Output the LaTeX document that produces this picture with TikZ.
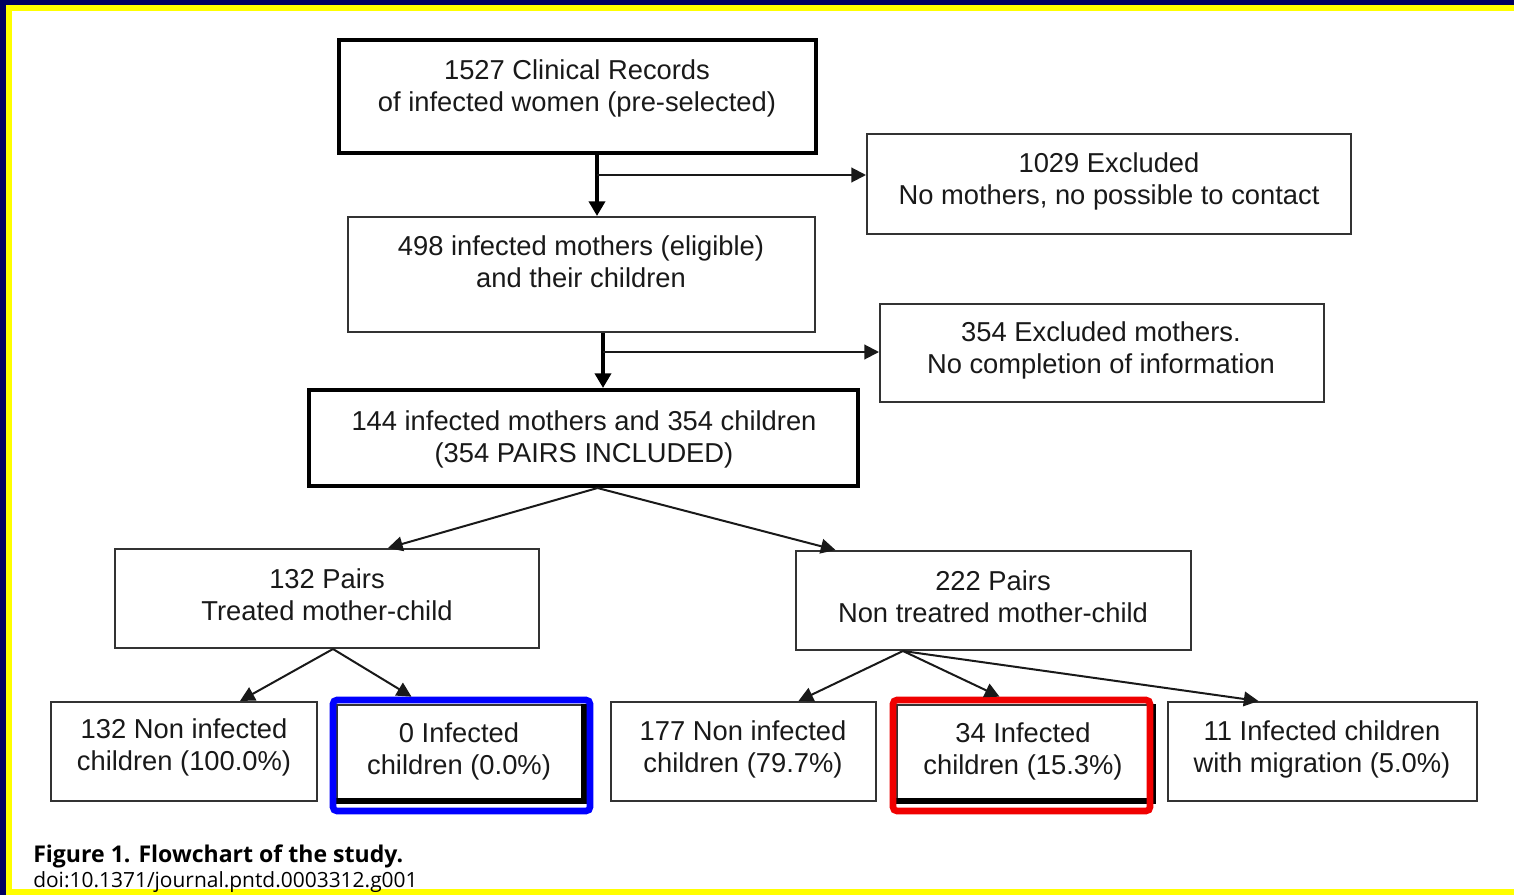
\documentclass[tikz,border=0pt]{standalone}
\usepackage{fontspec}
\setmainfont{Liberation Sans}
\newfontfamily\capfont{Open Sans}
\usetikzlibrary{arrows.meta,fit,calc}
\definecolor{navy}{HTML}{000060}
\definecolor{hlyellow}{HTML}{FFFF00}
\definecolor{hlblue}{HTML}{0000FF}
\definecolor{hlred}{HTML}{F00000}
\begin{document}
\begin{tikzpicture}[x=0.75pt,y=-0.75pt,
  thinbox/.style={draw=black!80, line width=1.5pt, inner sep=0pt},
  thickbox/.style={draw=black, line width=3pt, inner sep=0pt},
  txt/.style={align=center, font=\fontsize{20.5}{24}\selectfont, inner sep=0pt, text=black!90},
  conn/.style={draw=black!90, line width=1.5pt, -{Triangle[length=11pt,width=11pt]}},
  trunk/.style={draw=black, line width=3.5pt, -{Triangle[length=11pt,width=12pt]}},
  hl/.style={draw=#1, line width=5pt, rounded corners=3pt, inner sep=0pt},
  shadowline/.style={draw=black, line width=4pt}]
% frame
\fill[navy] (0,0) rectangle (1514,895);
\fill[hlyellow] (6,5) rectangle (1514,895);
\fill[white] (12,11) rectangle (1514,889);
\useasboundingbox (0,0) rectangle (1514,895);
% boxes
\node[thickbox, fit={(339,40)(816,153)}] (rec) {};
\node[txt] (trec) at (577,88) {1527 Clinical Records\\of infected women (pre-selected)};
\node[thinbox, fit={(867,134)(1351,234)}] (ex1) {};
\node[txt] (tex1) at (1109,181) {1029 Excluded\\No mothers, no possible to contact};
\node[thinbox, fit={(348,217)(815,332)}] (b2) {};
\node[txt] (tb2) at (581,262) {498 infected mothers (eligible)\\and their children};
\node[thinbox, fit={(880,304)(1324,402)}] (ex2) {};
\node[txt] (tex2) at (1101,350) {354 Excluded mothers.\\No completion of information};
\node[thickbox, fit={(309,390)(858,486)}] (b3) {};
\node[txt] (tb3) at (584,439) {144 infected mothers and 354 children\\(354 PAIRS INCLUDED)};
\node[thinbox, fit={(115,549)(539,648)}] (p1) {};
\node[txt] (tp1) at (327,595) {132 Pairs\\Treated mother-child};
\node[thinbox, fit={(796,551)(1191,650)}] (p2) {};
\node[txt] (tp2) at (993,597) {222 Pairs\\Non treatred mother-child};
\node[thinbox, fit={(51,702)(317,801)}] (c1) {};
\node[txt] (tc1) at (184,747) {132 Non infected\\children (100.0\%)};
\node[thinbox, fit={(337,705)(583,800)}] (c2) {};
\draw[shadowline] (c2.north east) -- (c2.south east) -- (c2.south west);
\node[txt] (tc2) at (459,751) {0 Infected\\children (0.0\%)};
\node[thinbox, fit={(611,702)(876,801)}] (c3) {};
\node[txt] (tc3) at (743,749) {177 Non infected\\children (79.7\%)};
\node[thinbox, fit={(897,705)(1150,800)}] (c4) {};
\draw[shadowline] ($(c4.north east)+(2,0)$) -- ($(c4.south east)+(2,0)$) -- (c4.south west);
\node[txt] (tc4) at (1023,751) {34 Infected\\children (15.3\%)};
\node[thinbox, fit={(1168,702)(1477,801)}] (c5) {};
\node[txt] (tc5) at (1322,749) {11 Infected children\\with migration (5.0\%)};
% highlights
\node[hl=hlblue, fit={(333,700)(590,811)}] (hb) {};
\node[hl=hlred, fit={(893,700)(1150,811)}] (hr) {};
% connectors
\coordinate (j1) at (597,175);
\draw[trunk] (j1 |- rec.south) -- (j1 |- b2.north);
\draw[conn] (j1) -- (j1 -| ex1.west);
\coordinate (j2) at (603,352);
\draw[trunk] (j2 |- b2.south) -- (j2 |- b3.north);
\draw[conn] (j2) -- (j2 -| ex2.west);
\coordinate (o3) at ($(b3.south)+(14,0)$);
\draw[conn] (o3) -- ($(p1.north)+(61,0)$);
\draw[conn] (o3) -- ($(p2.north)+(-158,0)$);
\coordinate (o1) at ($(p1.south)+(6,0)$);
\draw[conn] (o1) -- ($(c1.north)+(56,0)$);
\draw[conn] (o1) -- ($(hb.north)+(-50,0)$);
\coordinate (o2) at ($(p2.south)+(-90.5,0)$);
\draw[conn] (o2) -- ($(c3.north)+(55,0)$);
\draw[conn] (o2) -- ($(hr.north)+(-22,0)$);
\draw[conn] (o2) -- ($(c5.north)+(-64,0)$);
% caption
\node[anchor=base west, inner sep=0pt, font=\capfont\bfseries\fontsize{17.3}{18}\selectfont] (cap) at (33,862) {Figure 1. Flowchart of the study.};
\node[anchor=base west, inner sep=0pt, font=\capfont\fontsize{15.7}{18}\selectfont] (doi) at (33,887) {doi:10.1371/journal.pntd.0003312.g001};
\end{tikzpicture}
\end{document}
